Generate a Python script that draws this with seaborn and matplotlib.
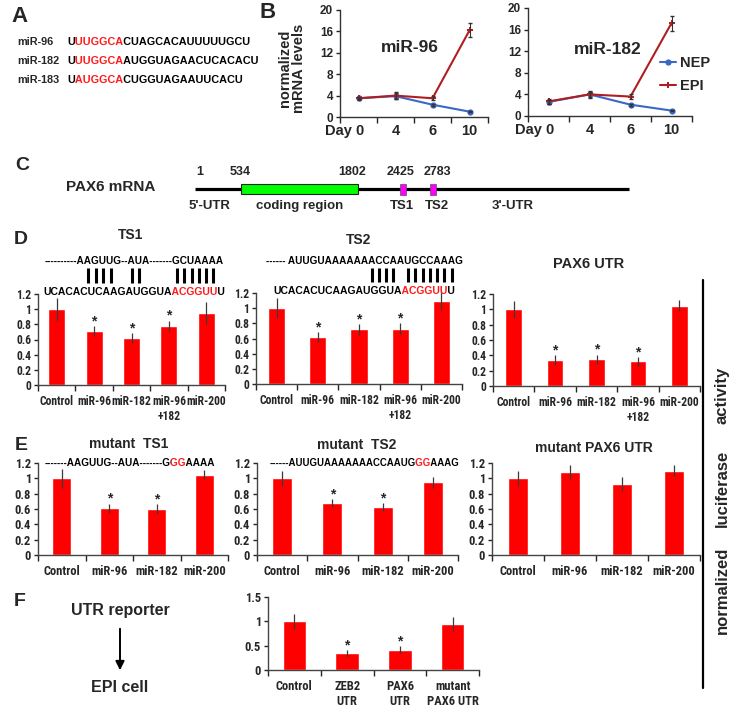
import os
import numpy as np
import pandas as pd
import matplotlib
matplotlib.use("Agg")
import matplotlib.pyplot as plt
import seaborn as sns
from matplotlib.font_manager import FontProperties, fontManager
from matplotlib.patches import Rectangle
from matplotlib.ticker import FixedLocator, FuncFormatter
from matplotlib.transforms import ScaledTranslation, Bbox

# ---------------- data ----------------
days = ["Day 0", "4", "6", "10"]
mir96_nep = [3.5, 3.9, 2.3, 1.0]
mir96_nep_err = [0.2, 0.5, 0.2, 0.1]
mir96_epi = [3.5, 4.0, 3.5, 16.2]
mir96_epi_err = [0.3, 0.7, 0.4, 1.3]
mir182_nep = [2.6, 4.0, 2.1, 1.0]
mir182_nep_err = [0.3, 0.5, 0.2, 0.1]
mir182_epi = [2.7, 4.0, 3.6, 17.2]
mir182_epi_err = [0.4, 0.7, 0.5, 1.4]

d_groups = ["Control", "miR-96", "miR-182", "miR-96\n+182", "miR-200"]
ts1_vals = [1.0, 0.71, 0.62, 0.78, 0.95]
ts1_err = [0.15, 0.07, 0.07, 0.07, 0.14]
ts2_vals = [1.0, 0.62, 0.72, 0.73, 1.10]
ts2_err = [0.13, 0.06, 0.07, 0.07, 0.13]
utr_vals = [1.0, 0.34, 0.35, 0.32, 1.05]
utr_err = [0.11, 0.06, 0.06, 0.06, 0.07]

e_groups = ["Control", "miR-96", "miR-182", "miR-200"]
mts1_vals = [1.0, 0.61, 0.60, 1.05]
mts1_err = [0.12, 0.06, 0.06, 0.06]
mts2_vals = [1.0, 0.68, 0.63, 0.95]
mts2_err = [0.10, 0.05, 0.05, 0.07]
mutr_vals = [1.0, 1.08, 0.93, 1.10]
mutr_err = [0.10, 0.09, 0.09, 0.07]

f_groups = ["Control", "ZEB2\nUTR", "PAX6\nUTR", "mutant\nPAX6 UTR"]
f_vals = [1.0, 0.34, 0.42, 0.95]
f_err = [0.15, 0.07, 0.07, 0.14]

mir_names = ["miR-96", "miR-182", "miR-183"]
mir_seqs = [("U", "UUGGCA", "CUAGCACAUUUUUGCU"),
            ("U", "UUGGCA", "AUGGUAGAACUCACACU"),
            ("U", "AUGGCA", "CUGGUAGAAUUCACU")]

# ---------------- style ----------------
sns.set_style("ticks")
SANS = ["Liberation Sans", "DejaVu Sans"]
plt.rcParams["font.family"] = SANS
plt.rcParams["font.weight"] = "bold"


def find_narrow():
    best = None
    for f in fontManager.ttflist:
        key = (f.name + " " + os.path.basename(f.fname)).lower()
        if "dejavu" in key:
            continue
        cond = any(k in key for k in ("narrow", "condensed")) or \
            str(f.stretch) in ("condensed", "semi-condensed", "extra-condensed", "ultra-condensed")
        if not cond:
            continue
        try:
            w = int(f.weight)
        except Exception:
            w = 700 if "bold" in str(f.weight).lower() else 400
        if "italic" in key or str(f.style) != "normal":
            continue
        score = (w >= 600) * 10 + (w == 700) * 2 + ("liberation" in key) * 5 + ("roboto" in key) * 2 \
            - (("extra" in key) or ("ultra" in key)) * 3
        if best is None or score > best[0]:
            best = (score, f.fname)
    return best[1] if best else None


NARROW_PATH = find_narrow()


def narrow_fp(size):
    if NARROW_PATH:
        return FontProperties(fname=NARROW_PATH, size=size)
    return FontProperties(family=SANS, weight="bold", size=size * 0.86)


RED = "#ff0000"
TRED = "#ff1a1a"
BLUE = "#3a68c4"
DRED = "#b01e22"

W, H = 736, 713
fig = plt.figure(figsize=(W / 100, H / 100), dpi=100)
fig.patch.set_facecolor("white")


def ax_px(x0, x1, ytop, ybot):
    return fig.add_axes([x0 / W, 1 - ybot / H, (x1 - x0) / W, (ybot - ytop) / H])


ov = fig.add_axes([0, 0, 1, 1], zorder=5)
ov.set_xlim(0, W)
ov.set_ylim(H, 0)
ov.axis("off")
renderer = fig.canvas.get_renderer()


def tw(s, fp):
    if not s:
        return 0.0
    w, h, d = renderer.get_text_width_height_descent(s, fp, ismath=False)
    return w


def seq(x, y, parts, size):
    """Draw one string once per colour, each copy clipped to its own span,
    so glyph spacing is exactly that of the whole string."""
    fp = FontProperties(family=SANS, weight="bold", size=size)
    full = "".join(p[0] for p in parts)
    total = tw(full, fp)

    def left_ink(k):
        return x + total - tw(full[k:], fp)

    def right_ink(k):
        return x + tw(full[:k + 1], fp)

    bounds = [x - 10]
    pos = 0
    for s, c in parts[:-1]:
        pos += len(s)
        bounds.append((right_ink(pos - 1) + left_ink(pos)) / 2)
    bounds.append(x + total + 10)
    for (s, c), b0, b1 in zip(parts, bounds[:-1], bounds[1:]):
        t = ov.text(x, y, full, color=c, fontproperties=fp, ha="left", va="center")
        t.set_clip_on(True)
        t.set_clip_box(Bbox.from_extents(round(b0), H - y - 20, round(b1), H - y + 20))
    return lambda i: (left_ink(i) + right_ink(i)) / 2


def T(x, y, s, size, **kw):
    ov.text(x, y, s, fontsize=size, fontweight="bold", ha=kw.pop("ha", "center"),
            va=kw.pop("va", "center"), **kw)


# ---------------- panel A ----------------
T(20, 16, "A", 16)
for k, (nm, (a, b, c)) in enumerate(zip(mir_names, mir_seqs)):
    y = 42 + 19 * k
    T(17, y, nm, 7.8, ha="left")
    seq(67, y, [(a, "black"), (b, TRED), (c, "black")], 7.8)

# ---------------- panel B ----------------
T(268, 12, "B", 16)


def line_panel(px, nep, nep_err, epi, epi_err, title, txy, legend):
    ax = ax_px(*px)
    x = np.arange(len(days))
    df = pd.DataFrame({"x": np.concatenate([x, x]), "v": list(nep) + list(epi),
                       "cell": ["NEP"] * len(nep) + ["EPI"] * len(epi)})
    sns.lineplot(data=df, x="x", y="v", hue="cell", style="cell", hue_order=["NEP", "EPI"],
                 palette={"NEP": BLUE, "EPI": DRED}, markers={"NEP": "o", "EPI": "P"},
                 dashes=False, markersize=4.5, linewidth=1.5, markeredgewidth=0,
                 ax=ax, legend=legend)
    ax.errorbar(x, nep, yerr=nep_err, fmt="none", ecolor="#333333", elinewidth=0.8, capsize=1.5)
    ax.errorbar(x, epi, yerr=epi_err, fmt="none", ecolor="#333333", elinewidth=0.8, capsize=1.5)
    ax.set_xlim(-0.5, len(days) - 0.5)
    ax.set_ylim(0, 20)
    ax.set_yticks([0, 4, 8, 12, 16, 20])
    ax.set_xticks(x)
    ax.set_xticklabels(days)
    ax.xaxis.set_minor_locator(FixedLocator(np.arange(-0.5, len(days), 1)))
    ax.tick_params(axis="x", which="major", length=0, labelsize=10.5, pad=5)
    ax.tick_params(axis="x", which="minor", length=4, width=1, direction="out")
    ax.tick_params(axis="y", length=3, width=1, direction="out", labelsize=8.5, pad=2)
    lab0 = ax.get_xticklabels()[0]
    lab0.set_ha("right")
    lab0.set_transform(lab0.get_transform() + ScaledTranslation(0.055, 0, fig.dpi_scale_trans))
    ax.set_xlabel("")
    ax.set_ylabel("")
    sns.despine(ax=ax)
    for s in ("left", "bottom"):
        ax.spines[s].set_linewidth(1.0)
        ax.spines[s].set_color("#333333")
    ov.text(txy[0], txy[1], title, fontsize=12.5, fontweight="bold", ha="center", va="center")
    if legend:
        h, l = ax.get_legend_handles_labels()
        keep = [(hh, ll) for hh, ll in zip(h, l) if ll in ("NEP", "EPI")]
        ax.legend([k[0] for k in keep], [k[1] for k in keep], loc="upper left",
                  bbox_to_anchor=((660 - px[0]) / (px[1] - px[0]), (px[3] - 56) / (px[3] - px[2])),
                  frameon=False, prop=FontProperties(family=SANS, weight="bold", size=10.5),
                  handlelength=1.1, handletextpad=0.3, labelspacing=0.6, borderpad=0, borderaxespad=0)
    return ax


line_panel((340, 488, 10, 117), mir96_nep, mir96_nep_err, mir96_epi, mir96_epi_err,
           "miR-96", (410, 48), False)
line_panel((528, 692, 8, 116), mir182_nep, mir182_nep_err, mir182_epi, mir182_epi_err,
           "miR-182", (608, 50), True)
ov.text(292, 68, "normalized\nmRNA levels", rotation=90, fontsize=10.5, fontweight="bold",
        ha="center", va="center", linespacing=0.95)

# ---------------- panel C ----------------
T(22, 165, "C", 14)
T(111, 187, "PAX6 mRNA", 11)
ov.plot([195, 629], [189, 189], color="black", lw=2.3, solid_capstyle="butt")
ov.add_patch(Rectangle((241, 184), 117, 10, fc="#00ff00", ec="#222222", lw=0.8, zorder=3))
for xm in (400, 430):
    ov.add_patch(Rectangle((xm, 183.5), 5.5, 11, fc="#ff00ff", ec="#555555", lw=0.5, zorder=3))
for xv, s in [(200, "1"), (240, "534"), (352, "1802"), (401, "2425"), (437, "2783")]:
    T(xv, 172, s, 9)
for xv, s in [(209, "5'-UTR"), (300, "coding region"), (402, "TS1"), (437, "TS2"), (513, "3'-UTR")]:
    T(xv, 206, s, 9.5)

# ---------------- panel D ----------------
T(21, 240, "D", 14)


def bar_panel(px, groups, vals, errs, ymax, ystep, stars, width, lsize):
    ax = ax_px(*px)
    df = pd.DataFrame({"g": groups, "v": vals})
    sns.barplot(data=df, x="g", y="v", color=RED, saturation=1, width=width,
                errorbar=None, ax=ax)
    pos = np.arange(len(vals))
    eb = ax.errorbar(pos, vals, yerr=errs, fmt="none", ecolor="#3a3a3a", elinewidth=0.9,
                     capsize=0, zorder=3)
    for c in eb.lines[2]:
        c.set_clip_on(False)
    for i in stars:
        ax.annotate("*", xy=(i, vals[i] + errs[i]), xytext=(0, 0.5), textcoords="offset points",
                    ha="center", va="baseline", fontsize=10, fontweight="bold",
                    annotation_clip=False)
    ax.set_ylim(0, ymax)
    ax.set_xlim(-0.5, len(vals) - 0.5)
    ax.set_yticks(np.arange(0, ymax + 1e-9, ystep))
    ax.yaxis.set_major_formatter(FuncFormatter(lambda v, p: f"{round(v, 2):g}"))
    ax.xaxis.set_minor_locator(FixedLocator(np.arange(-0.5, len(vals), 1)))
    ax.tick_params(axis="x", which="major", length=0, pad=7)
    ax.tick_params(axis="x", which="minor", length=4, width=1, direction="out")
    ax.tick_params(axis="y", length=3, width=1, direction="out", pad=2)
    for lab in ax.get_xticklabels() + ax.get_yticklabels():
        lab.set_fontproperties(narrow_fp(lsize))
    ax.set_xlabel("")
    ax.set_ylabel("")
    sns.despine(ax=ax)
    for s in ("left", "bottom"):
        ax.spines[s].set_linewidth(1.0)
        ax.spines[s].set_color("#444444")
    return ax


bar_panel((38, 225, 294, 385), d_groups, ts1_vals, ts1_err, 1.2, 0.2, [1, 2, 3], 0.45, 8.4)
bar_panel((256, 462, 293, 384), d_groups, ts2_vals, ts2_err, 1.2, 0.2, [1, 2, 3], 0.42, 8.4)
bar_panel((493, 700, 294, 386), d_groups, utr_vals, utr_err, 1.2, 0.2, [1, 2, 3], 0.4, 8.4)

T(131, 235, "TS1", 10)
T(359, 240, "TS2", 10)
T(589, 264, "PAX6 UTR", 10.5)

c1 = seq(45, 261, [("----------AAGUUG--AUA-------GCUAAAA", "black")], 7.2)
seq(43, 292, [("UCACACUCAAGAUGGUA", "black"), ("ACGGUU", TRED), ("U", "black")], 7.5)
for i in [11, 12, 13, 14, 18, 19, 28, 29, 30, 31, 32, 33]:
    ov.plot([c1(i)] * 2, [268, 283], color="black", lw=2.2, solid_capstyle="butt")

c2 = seq(266, 261, [("------ AUUGUAAAAAAACCAAUGCCAAAG", "black")], 7.2)
seq(273, 291, [("UCACACUCAAGAUGGUA", "black"), ("ACGGUU", TRED), ("U", "black")], 7.5)
for i in [18, 19, 20, 21, 23, 24, 25, 26, 27, 28, 29]:
    ov.plot([c2(i)] * 2, [268, 282], color="black", lw=2.2, solid_capstyle="butt")

# ---------------- panel E ----------------
T(21, 445, "E", 14)
bar_panel((38, 228, 463, 555), e_groups, mts1_vals, mts1_err, 1.2, 0.2, [1, 2], 0.4, 9)
bar_panel((257, 458, 463, 555), e_groups, mts2_vals, mts2_err, 1.2, 0.2, [1, 2], 0.4, 9)
bar_panel((492, 700, 463, 555), e_groups, mutr_vals, mutr_err, 1.2, 0.2, [], 0.4, 9)
T(129, 444, "mutant  TS1", 10)
T(357, 445, "mutant  TS2", 10)
T(594, 448, "mutant PAX6 UTR", 10)
seq(45, 463, [("-------AAGUUG--AUA-------G", "black"), ("GG", TRED), ("AAAA", "black")], 7.2)
seq(270, 463, [("------AUUGUAAAAAAACCAAUG", "black"), ("GG", TRED), ("AAAG", "black")], 6.9)

# ---------------- panel F ----------------
T(20, 601, "F", 14)
bar_panel((268, 479, 597, 670), f_groups, f_vals, f_err, 1.5, 0.5, [1, 2], 0.45, 9)
T(120, 610, "UTR reporter", 11.5)
T(120, 688, "EPI cell", 11.5)
ov.annotate("", xy=(120, 673), xytext=(120, 626),
            arrowprops=dict(arrowstyle="-|>", color="black", lw=1.4, mutation_scale=13))

# ---------------- right label ----------------
ov.plot([703, 703], [280, 688], color="black", lw=1.6)
for yv, s in [(395, "activity"), (488, "luciferase"), (590, "normalized")]:
    T(722, yv, s, 12, rotation=90)

fig.savefig("out.png", dpi=100, facecolor="white")
